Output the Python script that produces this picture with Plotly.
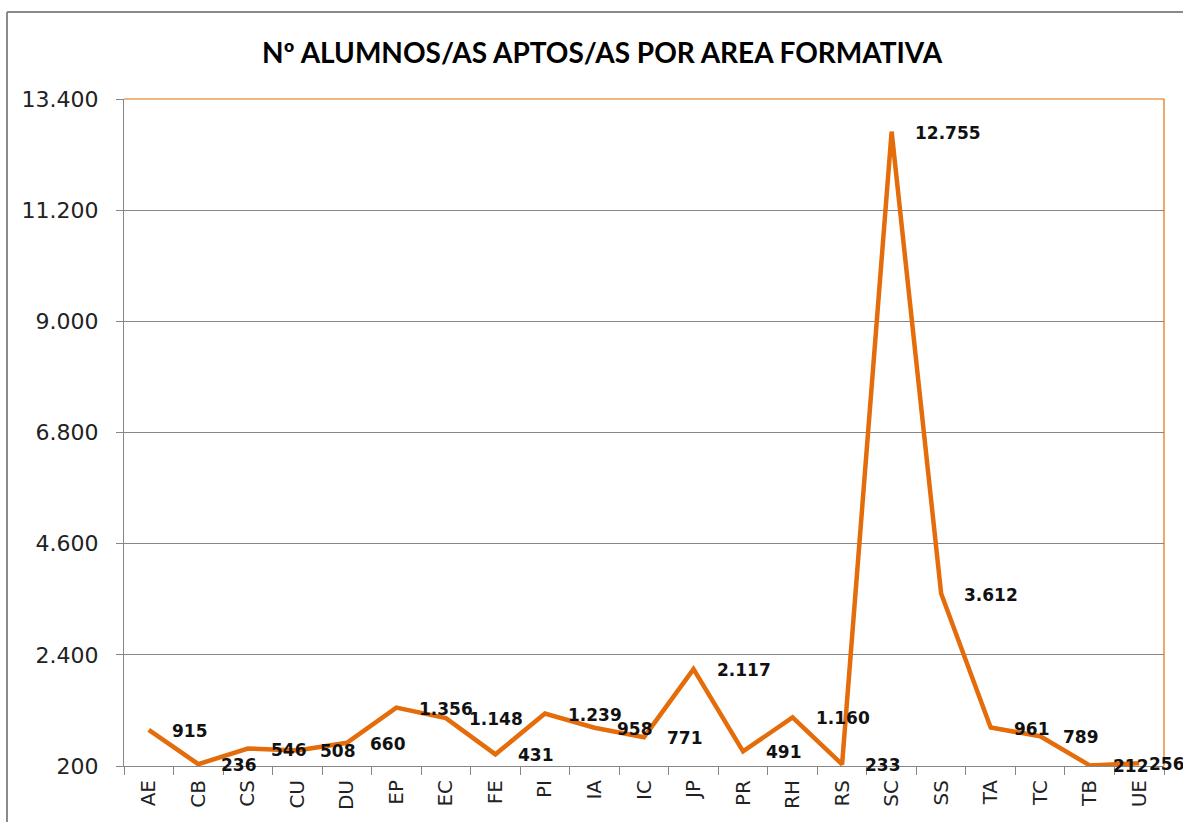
import plotly.graph_objects as go

categories = ["AE", "CB", "CS", "CU", "DU", "EP", "EC", "FE", "PI", "IA", "IC",
              "JP", "PR", "RH", "RS", "SC", "SS", "TA", "TC", "TB", "UE"]
values = [915, 236, 546, 508, 660, 1356, 1148, 431, 1239, 958, 771,
          2117, 491, 1160, 233, 12755, 3612, 961, 789, 212, 256]
y_ticks = [200, 2400, 4600, 6800, 9000, 11200, 13400]
title_text = "Nº ALUMNOS/AS APTOS/AS POR AREA FORMATIVA"

ORANGE = "#E46C0A"
GRAY = "#868686"

W, H = 1183, 822
L, R, T, B = 124, 19, 99, 56
pw, ph = W - L - R, H - T - B

def px_x(p):
    return (p - L) / pw

def px_y(p):
    return (H - B - p) / ph

fig = go.Figure()
fig.add_trace(go.Scatter(
    x=categories, y=values, mode="lines",
    line=dict(color=ORANGE, width=4.5),
    hoverinfo="x+y", showlegend=False, cliponaxis=False,
))

annotations = []
n = len(categories)
for i, (c, v) in enumerate(zip(categories, values)):
    annotations.append(dict(
        x=c, y=v, xref="x", yref="y",
        text=f"{v:,}".replace(",", "."),
        showarrow=False, xanchor="left", yanchor="middle",
        xshift=21 if i < n - 1 else 8, yshift=-1,
        font=dict(family="DejaVu Sans", size=17, color="#111111", weight="bold"),
    ))

annotations.append(dict(
    x=px_x(602), y=px_y(52), xref="paper", yref="paper",
    text=f"<b>{title_text}</b>", showarrow=False,
    xanchor="center", yanchor="middle",
    font=dict(family="Lato", size=28, color="#000000"),
))

shapes = [
    dict(type="line", xref="paper", yref="paper", x0=0, x1=1, y0=1, y1=1,
         line=dict(color=ORANGE, width=1.2)),
    dict(type="line", xref="paper", yref="paper", x0=1, x1=1, y0=0, y1=1,
         line=dict(color=ORANGE, width=1.2)),
    dict(type="line", xref="paper", yref="paper", x0=px_x(7), x1=px_x(1200),
         y0=px_y(12), y1=px_y(12), line=dict(color="#8A8A8A", width=2)),
    dict(type="line", xref="paper", yref="paper", x0=px_x(7), x1=px_x(7),
         y0=px_y(12), y1=px_y(840), line=dict(color="#8A8A8A", width=2)),
]

fig.update_layout(
    width=W, height=H,
    margin=dict(l=L, r=R, t=T, b=B),
    paper_bgcolor="white", plot_bgcolor="white",
    separators=",.",
    annotations=annotations,
    shapes=shapes,
    xaxis=dict(
        type="category", range=[-0.5, len(categories) - 0.5],
        showgrid=False, showline=True, linecolor=GRAY, linewidth=1,
        ticks="outside", tickson="boundaries", ticklen=8, tickcolor=GRAY,
        tickangle=-90, ticklabelstandoff=5,
        tickfont=dict(family="DejaVu Sans", size=20, color="#222222"),
        zeroline=False,
    ),
    yaxis=dict(
        range=[200, 13400], tickvals=y_ticks, tickformat=",d",
        showgrid=True, gridcolor=GRAY, gridwidth=1,
        showline=True, linecolor=GRAY, linewidth=1,
        ticks="outside", ticklen=7, tickcolor=GRAY, ticklabelstandoff=13,
        tickfont=dict(family="DejaVu Sans", size=22, color="#222222"),
        zeroline=False,
    ),
)

fig.write_html(
    "out.html",
    config={"displayModeBar": False},
    post_script="document.body.style.margin='0';document.body.style.overflow='hidden';",
)
